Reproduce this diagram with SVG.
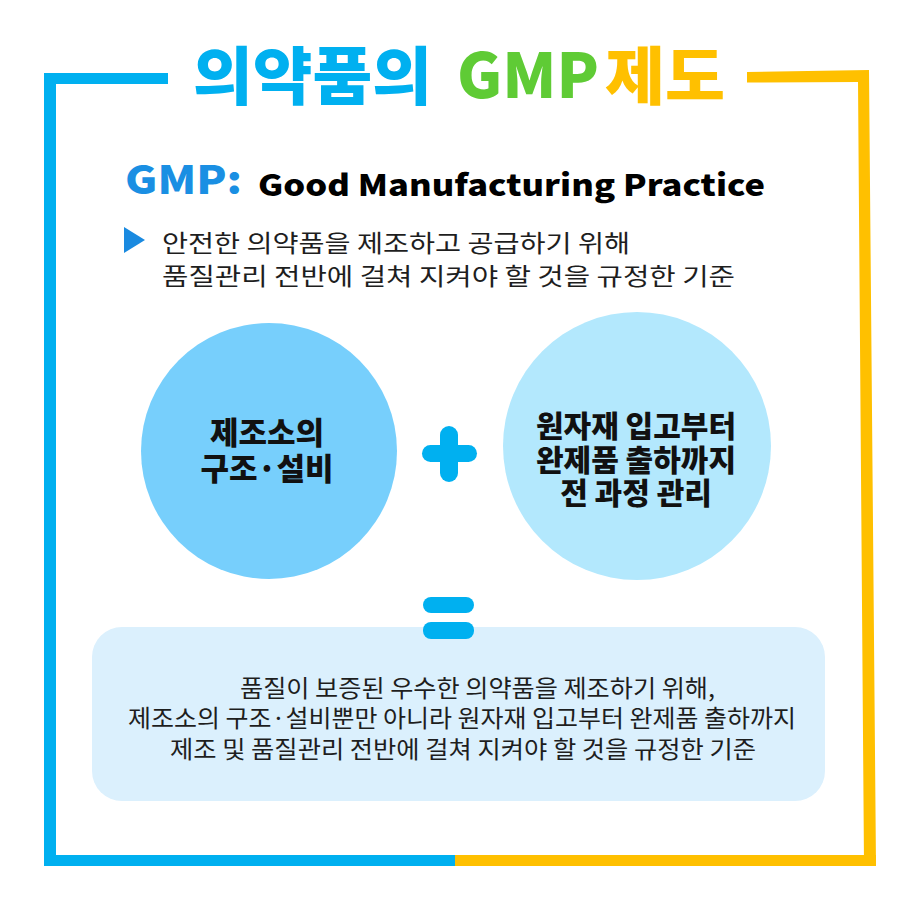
<svg xmlns="http://www.w3.org/2000/svg" width="924" height="909" viewBox="0 0 924 909">
<style>
.t{font-family:"Noto Sans CJK KR","Noto Sans",sans-serif;}
.h{font-weight:900;}
.b{font-weight:400;fill:#1e1e1e;font-size:24px;}
.c{font-weight:900;fill:#111;text-anchor:middle;}
.blue{fill:#00b0f0;}
.yel{fill:#ffc000;}
</style>
<rect width="924" height="909" fill="#ffffff"/>
<g id="frame">
<rect class="blue" x="44" y="73" width="124" height="11"/>
<rect class="blue" x="44" y="73" width="12" height="793"/>
<rect class="blue" x="44" y="855" width="412" height="11"/>
<rect class="yel" x="455" y="855" width="421" height="11"/>
<polygon class="yel" points="747,72 869,70 876,866 864,866 858,82 747,82.5"/>
</g>
<g id="title">
<text class="t h" x="193" y="99" font-size="63" fill="#00b0f0" textLength="239" lengthAdjust="spacingAndGlyphs">의약품의</text>
<text class="t h" x="457" y="98" font-size="62" fill="#5fcb35" textLength="142" lengthAdjust="spacingAndGlyphs">GMP</text>
<text class="t h" x="605" y="99" font-size="63" fill="#ffc000" textLength="120" lengthAdjust="spacingAndGlyphs">제도</text>
</g>
<g id="definition">
<text class="t h" x="125" y="194" font-size="39" fill="#1a8fe3" textLength="117" lengthAdjust="spacingAndGlyphs">GMP:</text>
<text class="t h" x="258" y="196" font-size="30" fill="#000" textLength="507" lengthAdjust="spacingAndGlyphs">Good Manufacturing Practice</text>
<polygon points="124,227 145,240 124,253" fill="#1a8ae0"/>
<text class="t b"><tspan x="162" y="252" textLength="468" lengthAdjust="spacingAndGlyphs">안전한 의약품을 제조하고 공급하기 위해</tspan><tspan x="162" y="285" textLength="573" lengthAdjust="spacingAndGlyphs">품질관리 전반에 걸쳐 지켜야 할 것을 규정한 기준</tspan></text>
</g>
<g id="node-facility">
<circle cx="269" cy="451" r="128" fill="#77cffc"/>
<text class="t c" font-size="31"><tspan x="267" y="444">제조소의</tspan><tspan x="267" y="480">구조·설비</tspan></text>
</g>
<g id="node-process">
<circle cx="637" cy="446" r="134" fill="#b3e8fd"/>
<text class="t c" font-size="30"><tspan x="636" y="437">원자재 입고부터</tspan><tspan x="636" y="471">완제품 출하까지</tspan><tspan x="636" y="504">전 과정 관리</tspan></text>
</g>
<g id="connectors">
<rect class="blue" x="440" y="426" width="18" height="56" rx="9"/>
<rect class="blue" x="422" y="445" width="55" height="17" rx="8.5"/>
</g>
<g id="node-result">
<rect x="92" y="627" width="733" height="174" rx="30" fill="#dbf0fd"/>
<text class="t b" font-size="23"><tspan x="240" y="697" textLength="475" lengthAdjust="spacingAndGlyphs">품질이 보증된 우수한 의약품을 제조하기 위해,</tspan><tspan x="128" y="727" textLength="668" lengthAdjust="spacingAndGlyphs">제조소의 구조·설비뿐만 아니라 원자재 입고부터 완제품 출하까지</tspan><tspan x="170" y="758" textLength="586" lengthAdjust="spacingAndGlyphs">제조 및 품질관리 전반에 걸쳐 지켜야 할 것을 규정한 기준</tspan></text>
</g>
<g id="equals">
<rect class="blue" x="423" y="597" width="51" height="16" rx="8"/>
<rect class="blue" x="423" y="622" width="51" height="17" rx="8"/>
</g>
</svg>
